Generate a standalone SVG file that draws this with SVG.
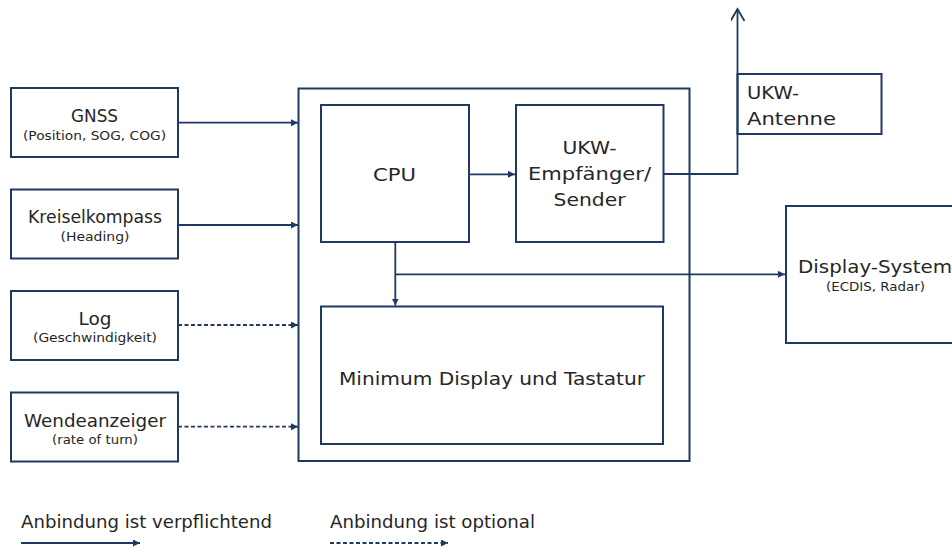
<svg xmlns="http://www.w3.org/2000/svg" width="952" height="547" viewBox="0 0 952 547">
<style>
  .box{fill:#fff;stroke:#1f3864;stroke-width:2}
  .ln{fill:none;stroke:#1f3864;stroke-width:1.8}
  .dash{stroke-dasharray:4 2.5}
  text{font-family:"DejaVu Sans","Liberation Sans",sans-serif;fill:#262626}
  .t{font-size:17px}
  .s{font-size:13px}
  .c{text-anchor:middle}
</style>
<defs>
  <marker id="ah" markerUnits="userSpaceOnUse" markerWidth="8" markerHeight="8" refX="7" refY="3.5" orient="auto">
    <path d="M0,0 L7,3.5 L0,7 z" fill="#1f3864"/>
  </marker>
  <marker id="open" markerUnits="userSpaceOnUse" markerWidth="18" markerHeight="18" refX="13" refY="7" orient="auto">
    <path d="M1,0 L13,7 L1,14" fill="none" stroke="#1f3864" stroke-width="1.8"/>
  </marker>
</defs>
<rect width="952" height="547" fill="#fff"/>

<g id="main"><rect class="box" x="298.5" y="88.5" width="391" height="372.5"/></g>

<g id="gnss">
  <rect class="box" x="11" y="88" width="167" height="69"/>
  <text class="t c" x="94.5" y="122" textLength="47" lengthAdjust="spacingAndGlyphs">GNSS</text>
  <text class="s c" x="94.5" y="140" textLength="143" lengthAdjust="spacingAndGlyphs">(Position, SOG, COG)</text>
</g>
<g id="kreiselkompass">
  <rect class="box" x="11" y="189.5" width="167" height="69"/>
  <text class="t c" x="95" y="223" textLength="134" lengthAdjust="spacingAndGlyphs">Kreiselkompass</text>
  <text class="s c" x="95" y="241" textLength="69" lengthAdjust="spacingAndGlyphs">(Heading)</text>
</g>
<g id="log">
  <rect class="box" x="11" y="291" width="167" height="69"/>
  <text class="t c" x="95" y="325" textLength="33" lengthAdjust="spacingAndGlyphs">Log</text>
  <text class="s c" x="95" y="342" textLength="124" lengthAdjust="spacingAndGlyphs">(Geschwindigkeit)</text>
</g>
<g id="wendeanzeiger">
  <rect class="box" x="11" y="392.5" width="167" height="69"/>
  <text class="t c" x="95" y="427" textLength="142" lengthAdjust="spacingAndGlyphs">Wendeanzeiger</text>
  <text class="s c" x="95" y="443.5" textLength="86" lengthAdjust="spacingAndGlyphs">(rate of turn)</text>
</g>
<g id="cpu">
  <rect class="box" x="321" y="105" width="148" height="137"/>
  <text class="t c" x="394.5" y="181" textLength="43" lengthAdjust="spacingAndGlyphs">CPU</text>
</g>
<g id="ukw">
  <rect class="box" x="516" y="105" width="147.5" height="137"/>
  <text class="t c" x="589.5" y="154" textLength="54" lengthAdjust="spacingAndGlyphs">UKW-</text>
  <text class="t c" x="589.5" y="180" textLength="123" lengthAdjust="spacingAndGlyphs">Empfänger/</text>
  <text class="t c" x="589.5" y="206" textLength="72" lengthAdjust="spacingAndGlyphs">Sender</text>
</g>
<g id="minimum-display">
  <rect class="box" x="321" y="306.5" width="342" height="137.5"/>
  <text class="t" x="339" y="385" textLength="306" lengthAdjust="spacingAndGlyphs">Minimum Display und Tastatur</text>
</g>
<g id="antenne">
  <rect class="box" x="737.5" y="74" width="144" height="60"/>
  <text class="t" x="747" y="99" textLength="52" lengthAdjust="spacingAndGlyphs">UKW-</text>
  <text class="t" x="747" y="125" textLength="89" lengthAdjust="spacingAndGlyphs">Antenne</text>
</g>
<g id="display-system">
  <rect class="box" x="786" y="206" width="190" height="137"/>
  <text class="t" x="798" y="273" textLength="154" lengthAdjust="spacingAndGlyphs">Display-System</text>
  <text class="s c" x="875.5" y="291" textLength="99" lengthAdjust="spacingAndGlyphs">(ECDIS, Radar)</text>
</g>

<g id="connectors">
  <path class="ln" d="M178,122.7 H298" marker-end="url(#ah)"/>
  <path class="ln" d="M178,225 H298" marker-end="url(#ah)"/>
  <path class="ln dash" d="M178,325 H298" marker-end="url(#ah)"/>
  <path class="ln dash" d="M178,426.7 H298" marker-end="url(#ah)"/>
  <path class="ln" d="M469,174.3 H515" marker-end="url(#ah)"/>
  <path class="ln" d="M663.5,174 H737.5 V9" marker-end="url(#open)"/>
  <path class="ln" d="M395.3,242 V305.5" marker-end="url(#ah)"/>
  <path class="ln" d="M395.3,274.3 H785" marker-end="url(#ah)"/>
</g>

<g id="legend">
  <text class="t" x="21" y="528" textLength="251" lengthAdjust="spacingAndGlyphs">Anbindung ist verpflichtend</text>
  <text class="t" x="330" y="528" textLength="205" lengthAdjust="spacingAndGlyphs">Anbindung ist optional</text>
  <path class="ln" d="M21,543 H140" marker-end="url(#ah)"/>
  <path class="ln dash" d="M330,543 H448" marker-end="url(#ah)"/>
</g>
</svg>
